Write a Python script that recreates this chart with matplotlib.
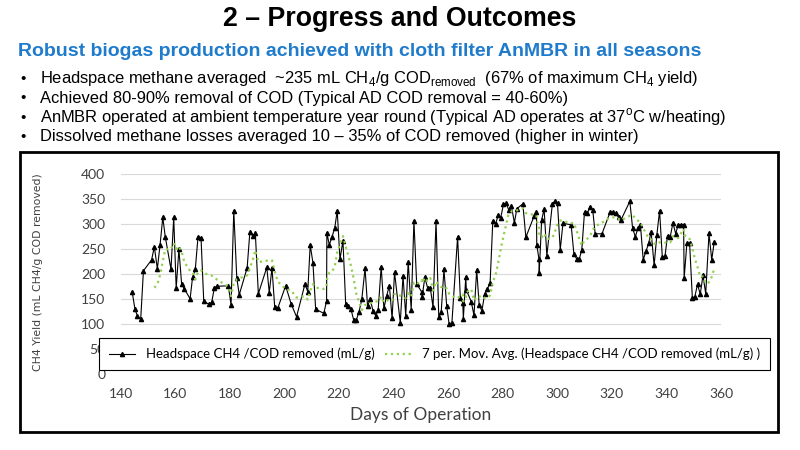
import numpy as np
import pandas as pd
import matplotlib
matplotlib.use('Agg')
import matplotlib.pyplot as plt
from matplotlib.patches import Rectangle

# data
days = [144.3, 145.3, 146.2, 147.4, 148.4, 151.4, 152.4, 153.5, 154.5, 155.5, 156.4, 158.5, 159.5, 160.4,
        161.4, 162.4, 163.4, 165.5, 166.4, 167.4, 168.4, 169.5, 170.5, 172.4, 173.4, 174.4, 175.3, 179.5,
        180.5, 181.5, 182.6, 183.5, 186.4, 187.4, 188.4, 189.4, 190.5, 193.6, 194.5, 195.5, 196.5, 197.6,
        200.5, 202.5, 204.5, 207.6, 208.6, 209.5, 210.5, 211.5, 214.5, 215.5, 215.6, 216.5, 217.5, 218.5,
        219.4, 220.4, 221.5, 222.5, 223.4, 224.4, 225.4, 226.4, 227.4, 228.4, 229.6, 230.5, 231.5, 232.5,
        233.5, 234.4, 235.5, 236.5, 237.5, 238.5, 239.5, 240.4, 242.5, 243.5, 244.5, 245.4, 246.5, 247.5,
        248.5, 250.3, 250.5, 251.5, 252.5, 253.5, 254.5, 255.6, 256.6, 257.5, 258.5, 259.5, 260.4, 261.4,
        263.5, 264.5, 265.4, 265.6, 266.5, 266.7, 268.5, 269.5, 270.5, 271.4, 272.4, 273.4, 274.4, 275.4,
        276.4, 277.4, 278.4, 279.3, 280.3, 281.3, 282.2, 283.2, 284.3, 285.2, 287.4, 288.5, 291.5, 292.4,
        292.5, 293.3, 293.4, 294.3, 295.2, 296.2, 298.2, 299.2, 300.1, 301.1, 302.1, 305.1, 306.1, 307.1,
        308.1, 309.0, 310.0, 311.0, 312.0, 313.0, 313.9, 316.4, 319.4, 320.4, 321.4, 322.5, 323.3, 326.6,
        327.6, 328.6, 329.6, 330.5, 331.5, 332.5, 333.5, 334.4, 335.5, 336.5, 337.5, 338.5, 339.5, 340.4,
        341.4, 342.4, 343.4, 344.3, 345.3, 346.3, 346.5, 347.5, 348.5, 349.5, 350.4, 351.4, 352.4, 353.4,
        354.4, 355.6, 356.6, 357.5]
ch4_yield = [164, 130, 117, 110, 207, 229, 255, 211, 259, 314, 275, 210, 314, 172,
             250, 180, 171, 151, 194, 210, 275, 273, 146, 140, 144, 173, 176, 177,
             139, 327, 193, 159, 213, 285, 277, 282, 161, 214, 163, 213, 134, 132,
             177, 141, 115, 181, 165, 259, 223, 130, 122, 147, 283, 259, 275, 293,
             327, 230, 267, 140, 137, 131, 109, 109, 125, 150, 212, 137, 150, 127,
             117, 129, 215, 132, 157, 177, 112, 204, 103, 197, 117, 225, 129, 307,
             181, 165, 154, 194, 173, 173, 134, 307, 115, 125, 210, 137, 100, 102,
             275, 153, 143, 111, 195, 169, 145, 118, 209, 139, 127, 160, 171, 182,
             307, 300, 319, 313, 340, 342, 329, 337, 303, 331, 341, 274, 316, 324,
             259, 231, 203, 309, 330, 237, 340, 347, 342, 249, 302, 299, 241, 231,
             231, 249, 325, 322, 335, 329, 281, 281, 325, 324, 322, 314, 308, 346,
             293, 275, 293, 298, 229, 246, 262, 285, 218, 279, 327, 234, 237, 277,
             275, 303, 281, 299, 299, 299, 192, 262, 262, 153, 155, 180, 160, 198,
             161, 282, 229, 264]

title = '2 \u2013 Progress and Outcomes'
subtitle = 'Robust biogas production achieved with cloth filter AnMBR in all seasons'
bullets = [
    r'Headspace methane averaged  ~235 mL CH$_\mathregular{4}$/g COD$_\mathregular{removed}$  (67% of maximum CH$_\mathregular{4}$ yield)',
    'Achieved 80-90% removal of COD (Typical AD COD removal = 40-60%)',
    r'AnMBR operated at ambient temperature year round (Typical AD operates at 37$^\mathregular{\mathsf{o}}$C w/heating)',
    'Dissolved methane losses averaged 10 \u2013 35% of COD removed (higher in winter)',
]

# 7 period moving average trendline (as Excel does it)
mov_avg = pd.Series(ch4_yield).rolling(7).mean()

plt.rcParams['font.family'] = ['Liberation Sans', 'DejaVu Sans']
plt.rcParams['mathtext.fontset'] = 'custom'
plt.rcParams['mathtext.rm'] = 'Liberation Sans'
plt.rcParams['mathtext.sf'] = 'Liberation Sans'

fig = plt.figure(figsize=(8, 4.5), dpi=100)
fig.patch.set_facecolor('white')

# slide text
fig.text(0.5, 1 - 19/450, title, ha='center', va='center', fontsize=19.3, fontweight='bold')
fig.text(0.022, 1 - 52/450, subtitle, ha='left', va='center', fontsize=14, fontweight='bold',
         color='#1F7BCB')
for i, b in enumerate(bullets):
    yy = 1 - (79 + 19.3*i)/450
    fig.text(0.025, yy, '\u2022', ha='left', va='center', fontsize=11)
    fig.text(0.050, yy, b, ha='left', va='center', fontsize=11.9)

# chart frame
fig.patches.append(Rectangle((20/800, 1 - 432/450), 758/800, 280/450, transform=fig.transFigure,
                             fill=False, edgecolor='black', linewidth=2))

ax = fig.add_axes([120.5/800, 1 - 374.3/450, 600.5/800, 200/450])
ax.plot(days, ch4_yield, color='black', linewidth=0.8, marker='^', markersize=3,
        label='Headspace CH4 /COD removed (mL/g)')
ax.plot(days, mov_avg, color='#92D050', linewidth=1.6, linestyle=':',
        label='7 per. Mov. Avg. (Headspace CH4 /COD removed (mL/g) )')

ax.set_xlim(140, 360)
ax.set_ylim(0, 400)
ax.set_xticks(np.arange(140, 361, 20))
ax.set_yticks(np.arange(0, 401, 50))
ax.grid(axis='y', color='#D9D9D9', linewidth=0.8)
ax.set_axisbelow(True)
for s in ax.spines.values():
    s.set_visible(False)
ax.tick_params(axis='y', length=0, labelsize=10, labelcolor='#404040', pad=11)
ax.tick_params(axis='x', length=0, labelsize=10, labelcolor='#404040', pad=10)
for lab in ax.get_xticklabels() + ax.get_yticklabels():
    lab.set_fontfamily('Lato')
ax.set_xlabel('Days of Operation', fontsize=12.5, fontfamily='Lato', color='#404040', labelpad=5)
fig.text(38/800, 1 - 272/450, 'CH4 Yield (mL CH4/g COD removed)', rotation=90, ha='center',
         va='center', fontsize=7.8, fontfamily='DejaVu Sans', color='#404040')

leg = ax.legend(loc='center', bbox_to_anchor=(-0.036, 0.036, 1.117, 0.13), mode='expand', ncol=2,
                fancybox=False, framealpha=1, edgecolor='black', borderpad=0.75,
                prop={'family': 'Lato', 'size': 9.5}, handlelength=2, borderaxespad=0)
leg.get_frame().set_linewidth(0.8)

fig.savefig('out.png', dpi=100)
